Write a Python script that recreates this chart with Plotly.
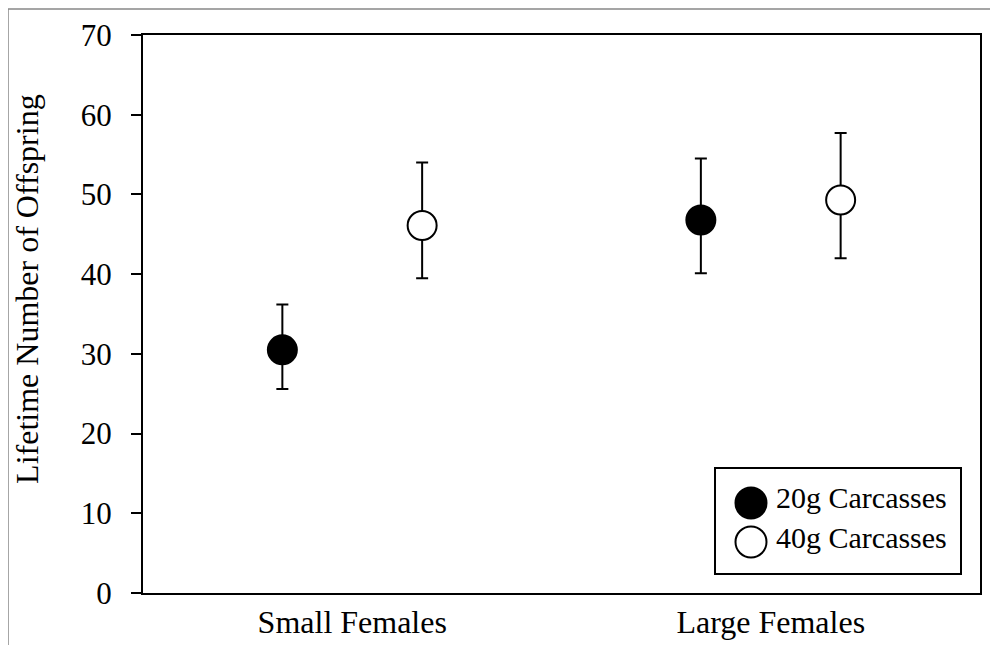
import plotly.graph_objects as go

categories = ["Small Females", "Large Females"]
series_names = ["20g Carcasses", "40g Carcasses"]
means_20g = [30.5, 46.8]
err_plus_20g = [5.7, 7.7]
err_minus_20g = [4.9, 6.7]
means_40g = [46.1, 49.3]
err_plus_40g = [7.9, 8.4]
err_minus_40g = [6.6, 7.3]
y_ticks = [0, 10, 20, 30, 40, 50, 60, 70]

FONT = "Liberation Serif"

fig = go.Figure()
cat_idx = list(range(len(categories)))
dodge = 0.167
fig.add_trace(go.Scatter(
    x=[i - dodge for i in cat_idx], y=means_20g, mode="markers", name=series_names[0],
    marker=dict(size=29, color="black", line=dict(color="black", width=2)),
    error_y=dict(type="data", symmetric=False, array=err_plus_20g, arrayminus=err_minus_20g,
                 color="black", thickness=2, width=6),
    showlegend=False,
))
fig.add_trace(go.Scatter(
    x=[i + dodge for i in cat_idx], y=means_40g, mode="markers", name=series_names[1],
    marker=dict(size=29, color="white", line=dict(color="black", width=2)),
    error_y=dict(type="data", symmetric=False, array=err_plus_40g, arrayminus=err_minus_40g,
                 color="black", thickness=2, width=6),
    showlegend=False,
))

fig.update_layout(
    width=982, height=637,
    margin=dict(l=135, r=10, t=27, b=52),
    paper_bgcolor="white", plot_bgcolor="white",
    font=dict(family=FONT, size=31, color="black"),
    xaxis=dict(range=[-0.5, 1.5], tickvals=cat_idx, ticktext=categories,
               showgrid=False, zeroline=False, showline=True, linecolor="black",
               linewidth=2, mirror=True, ticks="", ticklabelstandoff=0,
               tickfont=dict(size=32), automargin=False),
    yaxis=dict(range=[0, 70], tickvals=y_ticks, showgrid=False, zeroline=False,
               showline=True, linecolor="black", linewidth=2, mirror=True,
               ticks="outside", ticklen=10, tickwidth=2, tickcolor="black",
               ticklabelstandoff=13, tickfont=dict(size=31), automargin=False),
)

# y-axis title
fig.add_annotation(text="Lifetime Number of Offspring", xref="paper", yref="paper",
                   x=-0.1386, y=0.545, textangle=-90, showarrow=False,
                   font=dict(size=32), xanchor="center", yanchor="middle")

# outer frame
fig.add_shape(type="rect", xref="paper", yref="paper", x0=-0.1613, y0=-0.3, x1=1.3, y1=1.0466,
              line=dict(color="#888888", width=1.5), fillcolor="rgba(0,0,0,0)", layer="below")

# custom legend
lx0, lx1, ly0, ly1 = 0.6834, 0.9773, 0.034, 0.224
fig.add_shape(type="rect", xref="paper", yref="paper", x0=lx0, y0=ly0, x1=lx1, y1=ly1,
              line=dict(color="black", width=2), fillcolor="white")
fills = ["black", "white"]
circ_y = [0.1613, 0.0914]
text_y = [0.172, 0.099]
cx = 0.7264
rx = 15.5 / 837
ry_ = 15.5 / 558
for name, fill, cy, ty in zip(series_names, fills, circ_y, text_y):
    fig.add_shape(type="circle", xref="paper", yref="paper",
                  x0=cx - rx, x1=cx + rx, y0=cy - ry_, y1=cy + ry_,
                  line=dict(color="black", width=2), fillcolor=fill)
    fig.add_annotation(text=name, xref="paper", yref="paper", x=0.754, y=ty,
                       xanchor="left", yanchor="middle", showarrow=False,
                       font=dict(size=30))

fig.write_html("out.html")
